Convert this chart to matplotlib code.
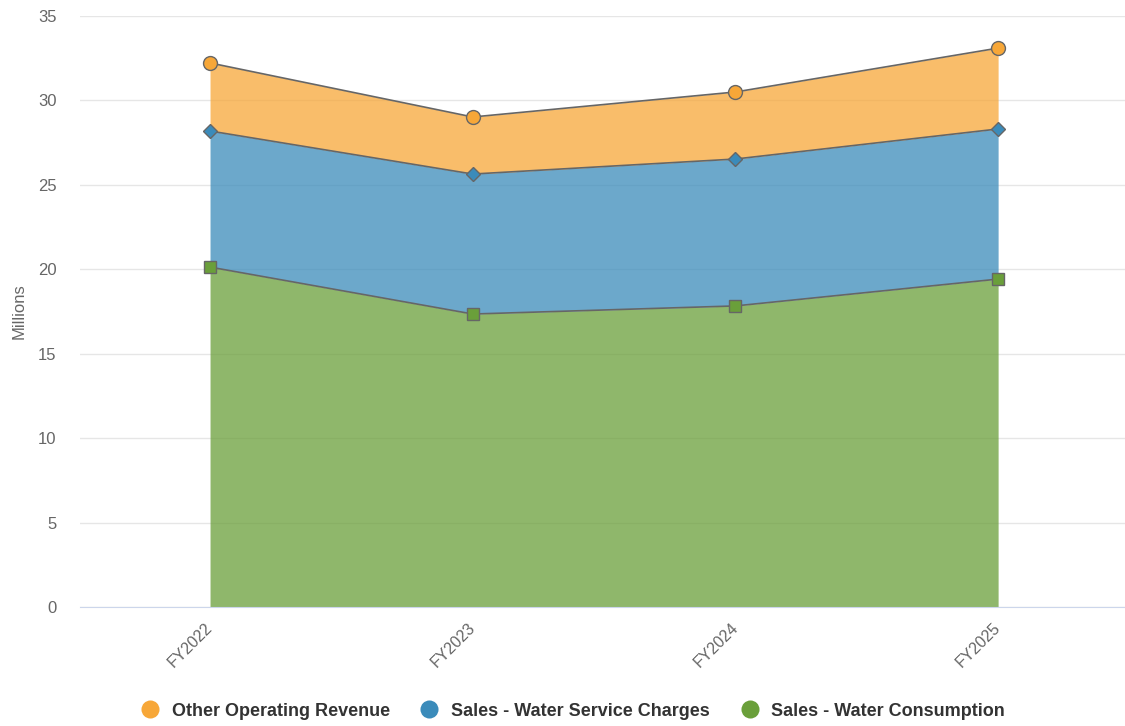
import matplotlib
matplotlib.use("Agg")
import matplotlib.pyplot as plt
import matplotlib.transforms as mtransforms
import numpy as np
from matplotlib.lines import Line2D

plt.rcParams['font.family'] = ['Liberation Sans', 'DejaVu Sans']

categories = ["FY2022", "FY2023", "FY2024", "FY2025"]
water_consumption = [20.13, 17.35, 17.83, 19.42]
service_charges = [8.06, 8.29, 8.70, 8.89]
other_revenue = [4.03, 3.38, 3.97, 4.79]
yticks = [0, 5, 10, 15, 20, 25, 30, 35]

fig = plt.figure(figsize=(11.25, 7.26), dpi=100)
ax = fig.add_axes([80/1125, 1-607/726, (1125-80)/1125, (607-16)/726])

x = np.arange(len(categories))
c = np.array(water_consumption)
s = c + np.array(service_charges)
o = s + np.array(other_revenue)

colors = {"green": "#6a9f3a", "blue": "#3b8bba", "orange": "#f7a738"}

ax.fill_between(x, 0, c, color=colors["green"], alpha=0.75, lw=0, zorder=2)
ax.fill_between(x, c, s, color=colors["blue"], alpha=0.75, lw=0, zorder=2)
ax.fill_between(x, s, o, color=colors["orange"], alpha=0.75, lw=0, zorder=2)

line_col = "#666666"
ax.plot(x, c, color=line_col, lw=1.2, zorder=3)
ax.plot(x, s, color=line_col, lw=1.2, zorder=3)
ax.plot(x, o, color=line_col, lw=1.2, zorder=3)
ax.plot(x, c, ls='none', marker='s', ms=9, mfc=colors["green"], mec=line_col, mew=1, zorder=4)
ax.plot(x, s, ls='none', marker='D', ms=7, mfc=colors["blue"], mec=line_col, mew=1, zorder=4)
ax.plot(x, o, ls='none', marker='o', ms=10, mfc=colors["orange"], mec=line_col, mew=1, zorder=4)

ax.set_xlim(-0.495, 3.483)
ax.set_ylim(0, 35)
ax.set_yticks(yticks)
ax.set_yticklabels([str(v) for v in yticks], fontsize=12, color="#666666")
ax.set_xticks(x)
ax.set_xticklabels(categories, rotation=45, ha='right', rotation_mode='anchor', fontsize=11.5, color="#666666")
ax.tick_params(axis='both', length=0)
ax.tick_params(axis='y', pad=17)
ax.tick_params(axis='x', pad=8)
offset = mtransforms.ScaledTranslation(-5/100, -2/100, fig.dpi_scale_trans)
for lbl in ax.get_xticklabels():
    lbl.set_transform(lbl.get_transform() + offset)
ax.grid(axis='y', color="#e6e6e6", lw=1, zorder=0)
ax.set_axisbelow(True)
for sp in ['top', 'right', 'left']:
    ax.spines[sp].set_visible(False)
ax.spines['bottom'].set_color("#ccd6eb")
ax.spines['bottom'].set_zorder(5)
ax.set_ylabel("Millions", fontsize=12, color="#666666", labelpad=8)

handles = [
    Line2D([], [], ls='none', marker='o', ms=13, mfc=colors["orange"], mec='none', label="Other Operating Revenue"),
    Line2D([], [], ls='none', marker='o', ms=13, mfc=colors["blue"], mec='none', label="Sales - Water Service Charges"),
    Line2D([], [], ls='none', marker='o', ms=13, mfc=colors["green"], mec='none', label="Sales - Water Consumption"),
]
leg = fig.legend(handles=handles, loc='center', bbox_to_anchor=(572/1125, 1-711/726), ncol=3, frameon=False,
                 prop={'weight': 'bold', 'size': 13}, handletextpad=0.6, columnspacing=1.6, handlelength=1.2)
for t in leg.get_texts():
    t.set_color("#333333")

fig.savefig("out.png", dpi=100)
